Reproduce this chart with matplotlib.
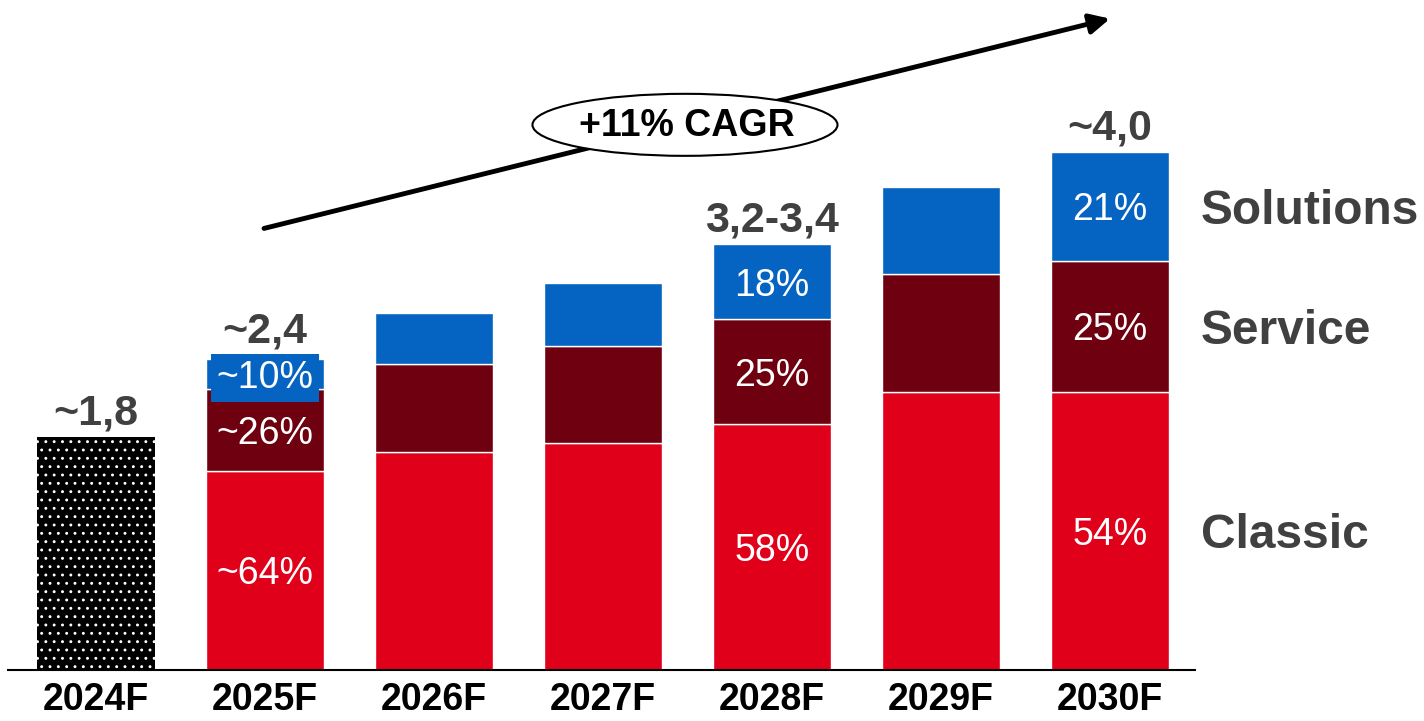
import numpy as np
import matplotlib
matplotlib.use("Agg")
import matplotlib.pyplot as plt
from matplotlib.patches import Ellipse

plt.rcParams['font.family'] = ['Liberation Sans', 'DejaVu Sans']
plt.rcParams['hatch.linewidth'] = 0.9

# data (bn)
years = ['2024F', '2025F', '2026F', '2027F', '2028F', '2029F', '2030F']
base_2024 = 1.8
classic = [1.54, 1.68, 1.75, 1.90, 2.15, 2.15]
service = [0.63, 0.68, 0.75, 0.81, 0.91, 1.01]
solutions = [0.23, 0.40, 0.49, 0.58, 0.67, 0.84]
total_labels = ['~1,8', '~2,4', '', '', '3,2-3,4', '', '~4,0']
classic_pct = ['~64%', '', '', '58%', '', '54%']
service_pct = ['~26%', '', '', '25%', '', '25%']
solutions_pct = ['~10%', '', '', '18%', '', '21%']
segments = ['Classic', 'Service', 'Solutions']
cagr_text = '+11% CAGR'

c_red = '#E0001A'
c_dark = '#6E0010'
c_blue = '#0563C1'
c_text = '#404040'

W, H = 1424, 721
fig = plt.figure(figsize=(W / 100, H / 100), dpi=100)
ax = fig.add_axes([8 / W, 51 / H, (1195 - 8) / W, 670 / H])
ax.set_xlim(-0.521, 6.503)
ax.set_ylim(0, 5.174)

x = np.arange(len(years))
xf = x[1:]
bw = 0.698

# 2024 bar: black with white dots
ax.bar(x[0], base_2024, width=bw, color='black', edgecolor='white',
       hatch='..', linewidth=0)

cl = np.array(classic)
sv = np.array(service)
so = np.array(solutions)
ax.bar(xf, cl, width=bw, color=c_red, edgecolor='white', linewidth=1)
ax.bar(xf, sv, bottom=cl, width=bw, color=c_dark, edgecolor='white', linewidth=1)
ax.bar(xf, so, bottom=cl + sv, width=bw, color=c_blue, edgecolor='white', linewidth=1)

totals = np.concatenate([[base_2024], cl + sv + so])

# total labels above bars
for i, lab in enumerate(total_labels):
    if not lab:
        continue
    off = 12 if i == 1 else 9
    ax.annotate(lab, (x[i], totals[i]), xytext=(0, off), textcoords='offset points',
                ha='center', va='baseline', fontsize=31, fontweight='bold', color=c_text)

# percentage labels inside segments
pfs = 27
for j in range(len(xf)):
    if classic_pct[j]:
        ax.text(xf[j], cl[j] / 2, classic_pct[j], ha='center', va='center_baseline',
                fontsize=pfs, color='white')
    if service_pct[j]:
        ax.text(xf[j], cl[j] + sv[j] / 2, service_pct[j], ha='center',
                va='center_baseline', fontsize=pfs, color='white')
    if solutions_pct[j]:
        ys = cl[j] + sv[j] + so[j] / 2
        if j == 0:
            ax.text(xf[j], ys, solutions_pct[j], ha='center', va='center_baseline',
                    fontsize=pfs, color='white',
                    bbox=dict(boxstyle='square,pad=0.15', fc=c_blue, ec='none'))
        else:
            ax.text(xf[j], ys, solutions_pct[j], ha='center', va='center_baseline',
                    fontsize=pfs, color='white')

# segment names on the right, aligned to last bar
lx = 6.538
seg_y = [cl[-1] / 2, cl[-1] + sv[-1] / 2, cl[-1] + sv[-1] + so[-1] / 2]
for name, yy in zip(segments, seg_y):
    ax.text(lx, yy, name, ha='left', va='center_baseline', fontsize=34.5,
            fontweight='bold', color=c_text, clip_on=False)

# CAGR arrow + ellipse
ax.annotate('', xy=(6.0, 5.03), xytext=(0.994, 3.41),
            arrowprops=dict(arrowstyle='-|>', lw=3.5, color='black',
                            mutation_scale=30, shrinkA=0, shrinkB=0))
ax.add_patch(Ellipse((3.485, 4.21), 1.805, 0.479, fc='white', ec='black',
                     lw=1.5, zorder=5))
ax.text(3.497, 4.20, cagr_text, ha='center', va='center', fontsize=27,
        fontweight='bold', color='black', zorder=6)

# axes styling
for s in ['top', 'right', 'left']:
    ax.spines[s].set_visible(False)
ax.spines['bottom'].set_linewidth(1.5)
ax.spines['bottom'].set_color('black')
ax.set_yticks([])
ax.set_xticks(x)
ax.set_xticklabels(years, fontsize=27, fontweight='bold', color='black')
ax.tick_params(axis='x', length=0, pad=9)

fig.savefig('out.png', dpi=100)
